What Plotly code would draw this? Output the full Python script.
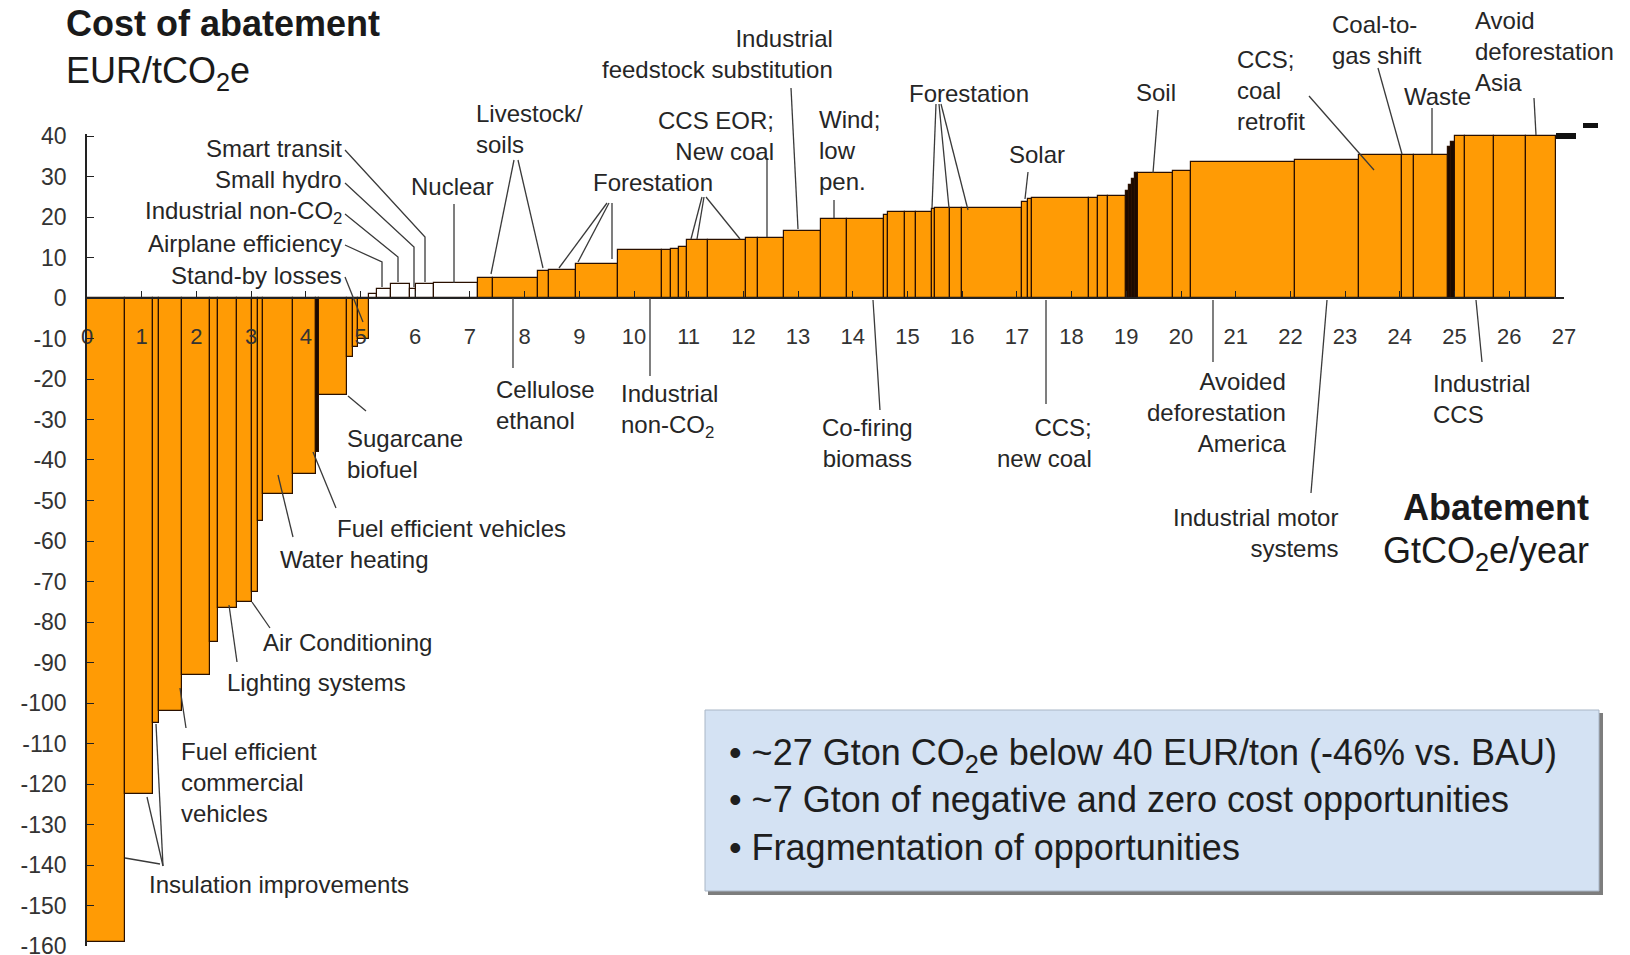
import numpy as np
import plotly.graph_objects as go

W, H = 1630, 955
X0, XS = 87.0, 54.7      # pixel of abatement 0 and pixels per Gt
Y0, YS = 298.0, 4.05     # pixel of cost 0 and pixels per EUR

# ---------------- data ----------------
bar_widths = [
    0.69, 0.52, 0.11, 0.42, 0.51, 0.15, 0.34, 0.28, 0.10, 0.10, 0.55, 0.42, 0.05, 0.51, 0.12, 0.08, 0.20,
    0.15, 0.25, 0.35, 0.12, 0.33, 0.80,
    0.28, 0.81, 0.21, 0.49, 0.77, 0.80, 0.17, 0.15, 0.14, 0.38,
    0.70, 0.21, 0.48, 0.67, 0.49, 0.67, 0.07, 0.31, 0.21, 0.28,
    0.07, 0.26, 0.23, 1.09, 0.11, 0.07, 1.04, 0.18, 0.18, 0.33,
    0.05, 0.05, 0.05, 0.06, 0.64, 0.33, 1.91, 1.17, 0.78, 0.22,
    0.62, 0.06, 0.06, 0.20, 0.52, 0.58, 0.56,
]
bar_costs = [
    -159, -122.5, -105, -102, -93, -85, -76.5, -75, -72.5, -55, -48.5, -43.5, -38, -24, -14.5, -12, -10,
    1.0, 2.2, 3.5, 2.2, 3.5, 3.6,
    5.0, 5.0, 6.6, 7.0, 8.5, 11.8, 11.8, 12.2, 12.6, 14.4,
    14.4, 14.8, 14.8, 16.6, 19.4, 19.4, 20.4, 21.2, 21.2, 21.2,
    22.0, 22.2, 22.2, 22.2, 23.7, 24.5, 24.8, 24.8, 25.3, 25.3,
    26.5, 28.0, 29.5, 30.8, 30.8, 31.4, 33.5, 34.0, 35.3, 35.3,
    35.3, 37.3, 38.6, 40.0, 40.0, 40.0, 40.0,
]
beyond_start = [26.86, 27.34]
beyond_end = [27.23, 27.63]
beyond_cost = [40.0, 42.6]

x_tick_values = list(range(0, 28))
y_tick_values = list(range(-160, 41, 10))
y_tick_labels = [str(v) for v in y_tick_values]

# ---------------- styles ----------------
FONT = "Liberation Sans, Arial, sans-serif"
TXT = "#262626"
ORANGE = "#FF9B05"
EDGE = "#2a1000"

w = np.array(bar_widths)
c = np.array(bar_costs)
centers = np.cumsum(w) - w / 2
fills = []
for wi, v in zip(w, c):
    if wi <= 0.06:
        fills.append("#1a0a00")       # very thin options appear as dark slivers
    elif 0 < v < 4.5:
        fills.append("#ffffff")       # near-zero cost options
    else:
        fills.append(ORANGE)

fig = go.Figure()
fig.add_trace(go.Bar(
    x=centers, y=c, width=w, marker=dict(color=fills, line=dict(color=EDGE, width=1.2)),
    xaxis="x", yaxis="y", hoverinfo="skip", showlegend=False))

fig.add_trace(go.Scatter(
    x=x_tick_values, y=[-10] * len(x_tick_values), mode="text",
    text=[str(v) for v in x_tick_values], textfont=dict(family=FONT, size=22, color="#333"),
    cliponaxis=False, xaxis="x", yaxis="y", hoverinfo="skip", showlegend=False))

bs = np.array(beyond_start); be = np.array(beyond_end); bc = np.array(beyond_cost)
fig.add_trace(go.Bar(
    x=(bs + be) / 2, width=be - bs, base=bc - 0.65, y=[1.3] * len(bc),
    marker=dict(color="#111", line=dict(width=0)),
    xaxis="x2", yaxis="y2", hoverinfo="skip", showlegend=False))

def PX(x):
    return x / W

def PY(y):
    return 1 - y / H

labels = [
    ("Smart transit", 343, 148, "right", [[(345, 150), (425, 237), (425, 282)]]),
    ("Small hydro", 343, 180, "right", [[(345, 183), (414, 247), (414, 287)]]),
    ("Industrial non-CO<sub>2</sub>", 343, 212, "right", [[(345, 214), (398, 257), (398, 282)]]),
    ("Airplane efficiency", 343, 243, "right", [[(345, 245), (382, 262), (382, 287)]]),
    ("Stand-by losses", 343, 275, "right", [[(345, 277), (363, 322)]]),
    ("Nuclear", 452, 187, "center", [[(454, 204), (454, 283)]]),
    ("Livestock/<br>soils", 475, 129, "left", [[(514, 160), (491, 274)], [(518, 160), (543, 268)]]),
    ("Cellulose<br>ethanol", 495, 405, "left", [[(513, 298), (513, 368)]]),
    ("Industrial<br>non-CO<sub>2</sub>", 620, 411, "left", [[(650, 298), (650, 376)]]),
    ("Forestation", 653, 182, "center", [[(607, 203), (559, 268)], [(609, 203), (578, 262)],
                                          [(612, 203), (612, 259)], [(702, 197), (691, 239)],
                                          [(704, 197), (697, 239)], [(706, 197), (740, 239)]]),
    ("CCS EOR;<br>New coal", 775, 136, "right", [[(767, 158), (767, 237)]]),
    ("Industrial<br>feedstock substitution", 834, 54, "right", [[(791, 88), (798, 229)]]),
    ("Wind;<br>low<br>pen.", 818, 150, "left", [[(834, 200), (834, 218)]]),
    ("Forestation", 908, 94, "left", [[(936, 104), (932, 208)], [(939, 104), (949, 208)],
                                       [(941, 104), (968, 210)]]),
    ("Solar", 1037, 154, "center", [[(1028, 172), (1025, 199)]]),
    ("Co-firing<br>biomass", 867, 443, "center", [[(873, 300), (880, 410)]]),
    ("CCS;<br>new coal", 1093, 443, "right", [[(1046, 300), (1046, 404)]]),
    ("Soil", 1156, 92, "center", [[(1158, 110), (1153, 173)]]),
    ("CCS;<br>coal<br>retrofit", 1236, 91, "left", [[(1309, 96), (1374, 170)]]),
    ("Coal-to-<br>gas shift", 1331, 40, "left", [[(1378, 68), (1402, 154)]]),
    ("Waste", 1403, 97, "left", [[(1432, 108), (1432, 154)]]),
    ("Avoid<br>deforestation<br>Asia", 1474, 52, "left", [[(1534, 98), (1536, 135)]]),
    ("Avoided<br>deforestation<br>America", 1287, 412, "right", [[(1213, 300), (1213, 362)]]),
    ("Industrial motor<br>systems", 1339, 533, "right", [[(1327, 300), (1311, 493)]]),
    ("Industrial<br>CCS", 1432, 399, "left", [[(1476, 300), (1482, 362)]]),
    ("Sugarcane<br>biofuel", 346, 454, "left", [[(348, 396), (366, 411)]]),
    ("Fuel efficient vehicles", 336, 528, "left", [[(313, 452), (336, 508)]]),
    ("Water heating", 279, 559, "left", [[(278, 475), (293, 537)]]),
    ("Air Conditioning", 262, 642, "left", [[(252, 602), (270, 628)]]),
    ("Lighting systems", 226, 682, "left", [[(229, 605), (237, 662)]]),
    ("Fuel efficient<br>commercial<br>vehicles", 180, 782, "left", [[(180, 688), (186, 728)]]),
    ("Insulation improvements", 148, 884, "left", [[(147, 797), (163, 866)], [(156, 724), (163, 866)],
                                                   [(125, 858), (160, 864)]]),
]

annotations = []
shapes = []
for text, x, y, anchor, leaders in labels:
    annotations.append(dict(
        text=text, x=PX(x), y=PY(y), xref="paper", yref="paper", xanchor=anchor, yanchor="middle",
        align=anchor, showarrow=False, borderpad=0, font=dict(family=FONT, size=24, color=TXT)))
    for pts in leaders:
        path = "M " + " L ".join(f"{PX(px):.5f},{PY(py):.5f}" for px, py in pts)
        shapes.append(dict(type="path", path=path, xref="paper", yref="paper",
                           line=dict(color="#3a3a3a", width=1.3)))

big_texts = [
    ("<b>Cost of abatement</b>", 65, 23, "left"),
    ("EUR/tCO<sub>2</sub>e", 65, 73, "left"),
    ("<b>Abatement</b>", 1590, 507, "right"),
    ("GtCO<sub>2</sub>e/year", 1590, 553, "right"),
]
for text, x, y, anchor in big_texts:
    annotations.append(dict(
        text=text, x=PX(x), y=PY(y), xref="paper", yref="paper", xanchor=anchor, yanchor="middle",
        align=anchor, showarrow=False, borderpad=0, font=dict(family=FONT, size=36, color="#1a1a1a")))

# summary box
shapes.insert(0, dict(type="rect", xref="paper", yref="paper", x0=PX(708), x1=PX(1603), y0=PY(895), y1=PY(713),
                      fillcolor="#7d7d7d", line=dict(width=0), layer="below"))
shapes.insert(1, dict(type="rect", xref="paper", yref="paper", x0=PX(705), x1=PX(1599), y0=PY(891), y1=PY(710),
                      fillcolor="#d4e2f3", line=dict(color="#a9b6c6", width=1), layer="below"))
box_lines = [
    ("• ~27 Gton CO<sub>2</sub>e below 40 EUR/ton (-46% vs. BAU)", 755),
    ("• ~7 Gton of negative and zero cost opportunities", 799),
    ("• Fragmentation of opportunities", 847),
]
for text, y in box_lines:
    annotations.append(dict(
        text=text, x=PX(728), y=PY(y), xref="paper", yref="paper", xanchor="left", yanchor="middle",
        align="left", showarrow=False, borderpad=0, font=dict(family=FONT, size=36, color="#1e1e1e")))

y_top = 40.5
y_bot = -160
fig.update_layout(
    width=W, height=H, autosize=False, margin=dict(l=0, r=0, t=0, b=0, pad=0, autoexpand=False),
    paper_bgcolor="white", plot_bgcolor="rgba(0,0,0,0)", showlegend=False,
    xaxis=dict(domain=[X0 / W, (X0 + 27 * XS) / W], range=[0, 27], anchor="free", position=(H - Y0) / H,
               showline=True, linecolor="#222", linewidth=1.5, ticks="inside", ticklen=6, tickwidth=1.2,
               tickcolor="#222", tickvals=x_tick_values, showticklabels=False, showgrid=False,
               zeroline=False, fixedrange=True, automargin=False),
    yaxis=dict(domain=[(H - (Y0 - YS * y_bot)) / H, (H - (Y0 - YS * y_top)) / H], range=[y_bot, y_top],
               anchor="x", showline=True, linecolor="#222", linewidth=1.5, ticks="inside", ticklen=7,
               tickwidth=1.2, tickcolor="#222", tickvals=y_tick_values, ticktext=y_tick_labels,
               tickfont=dict(family=FONT, size=23, color="#333"), ticklabelstandoff=14,
               ticklabeloverflow="allow", showgrid=False, zeroline=False, fixedrange=True, automargin=False),
    xaxis2=dict(domain=[0, 1], range=[-X0 / XS, (W - X0) / XS], anchor="y2", visible=False,
                fixedrange=True, automargin=False),
    yaxis2=dict(domain=[0, 1], range=[(Y0 - H) / YS, Y0 / YS], anchor="x2", visible=False,
                fixedrange=True, automargin=False),
    annotations=annotations, shapes=shapes, bargap=0,
)

fig.write_html("out.html", config={"displayModeBar": False},
               post_script="document.body.style.margin='0px';document.body.style.overflow='hidden';")
